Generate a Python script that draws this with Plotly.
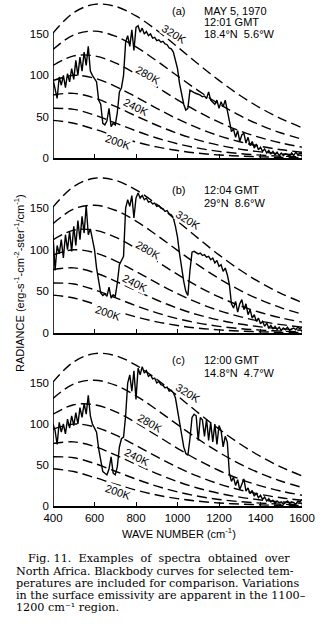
import plotly.graph_objects as go

# ---------------- data ----------------
bb_wn = [400, 500, 600, 700, 800, 900, 1000, 1100, 1200, 1300, 1400, 1500, 1600]
bb_temps = [320, 300, 280, 260, 240, 220, 200]
bb_320 = [151.2, 175.8, 185.8, 183.4, 171.8, 154.5, 134.3, 113.6, 93.8, 75.9, 60.4, 47.4, 36.7]
bb_300 = [131.2, 148.9, 153.4, 147.4, 134.4, 117.4, 99.2, 81.5, 65.4, 51.4, 39.7, 30.2, 22.7]
bb_280 = [111.9, 123.5, 123.5, 115.1, 101.6, 86.0, 70.3, 55.8, 43.3, 32.9, 24.6, 18.1, 13.1]
bb_260 = [93.6, 99.9, 96.5, 86.7, 73.8, 60.1, 47.2, 36.1, 26.9, 19.7, 14.1, 10.0, 7.0]
bb_240 = [76.2, 78.2, 72.5, 62.4, 50.8, 39.6, 29.8, 21.7, 15.5, 10.8, 7.4, 5.0, 3.3]
bb_220 = [60.1, 58.8, 51.9, 42.4, 32.8, 24.2, 17.2, 11.9, 8.0, 5.3, 3.5, 2.2, 1.4]
bb_200 = [45.5, 42.0, 34.8, 26.7, 19.4, 13.4, 9.0, 5.8, 3.7, 2.3, 1.4, 0.8, 0.5]

spec_wn = list(range(400, 1601, 10))
spec_a = [95, 85, 72, 98, 88, 100, 85, 102, 92, 108, 95, 118, 100, 122, 105, 128, 112, 135, 105, 100,
          95, 92, 70, 65, 42, 40, 45, 60, 38, 42, 40, 55, 80, 85, 100, 140, 148, 135, 155, 130,
          158, 160, 152, 157, 150, 153, 148, 150, 145, 146, 142, 143, 140, 141, 138, 137, 133, 132, 128, 118,
          108, 90, 75, 65, 58, 60, 82, 80, 79, 78, 77, 76, 74, 75, 72, 80, 70, 68, 65, 70,
          60, 68, 62, 70, 55, 45, 32, 35, 25, 33, 20, 28, 30, 18, 25, 15, 20, 12, 17, 10,
          13, 8, 11, 6, 9, 5, 8, 4, 7, 3, 6, 3, 5, 4, 2, 6, 3, 7, 4, 6, 5]
spec_b = [118, 75, 105, 95, 112, 90, 118, 100, 122, 98, 128, 105, 135, 112, 140, 120, 153, 118, 125, 110,
          100, 78, 60, 48, 45, 47, 44, 55, 42, 46, 44, 60, 82, 88, 92, 150, 160, 152, 165, 138,
          162, 168, 162, 165, 160, 162, 157, 158, 155, 156, 152, 153, 150, 149, 146, 147, 143, 142, 138, 128,
          115, 95, 75, 62, 50, 45, 75, 97, 98, 96, 95, 96, 93, 94, 91, 92, 88, 90, 84, 87,
          80, 82, 74, 78, 70, 58, 35, 30, 38, 25, 35, 40, 28, 35, 22, 28, 18, 22, 14, 18,
          11, 14, 8, 12, 6, 9, 5, 8, 4, 7, 3, 6, 4, 7, 3, 5, 6, 4, 7, 5, 7]
spec_c = [100, 92, 75, 102, 90, 100, 88, 106, 95, 110, 98, 114, 100, 120, 108, 125, 112, 135, 110, 100,
          95, 90, 70, 55, 42, 40, 38, 45, 60, 40, 38, 48, 72, 82, 84, 110, 150, 160, 140, 165,
          130, 168, 160, 170, 162, 165, 158, 160, 155, 156, 150, 152, 148, 147, 144, 145, 140, 141, 138, 132,
          118, 100, 85, 72, 64, 62, 82, 108, 112, 110, 80, 108, 105, 85, 106, 80, 102, 78, 100, 75,
          98, 92, 72, 85, 78, 40, 30, 35, 25, 32, 20, 28, 33, 18, 22, 15, 19, 12, 16, 10,
          13, 8, 11, 6, 9, 5, 7, 3, 6, 4, 5, 2, 4, 6, 3, 5, 4, 2, 6, 5, 8]

panel_letters = ["(a)", "(b)", "(c)"]
panel_info = [["MAY 5, 1970", "12:01 GMT", "18.4°N\u00a0\u00a05.6°W"],
              ["12:04 GMT", "29°N\u00a0\u00a08.6°W"],
              ["12:00 GMT", "14.8°N\u00a0\u00a04.7°W"]]
temp_labels = ["320K", "280K", "240K", "200K"]
y_ticks = [0, 50, 100, 150]
x_ticks = [400, 600, 800, 1000, 1200, 1400, 1600]
S = "\u00a0"
caption = ["Fig. 11." + S * 2 + "Examples" + S * 2 + "of" + S * 2 + "spectra" + S * 2 + "obtained" + S * 2 + "over",
           "North Africa. Blackbody curves for selected tem-",
           "peratures are included for comparison. Variations",
           "in the surface emissivity are apparent in the 1100–",
           "1200 cm\u207b\u00b9 region."]

# ---------------- layout helpers ----------------
W, H = 325, 630
def px(x):
    return x / W
def py(y):
    return 1 - y / H

SANS = "Liberation Sans, Arial, sans-serif"
SERIF = "DejaVu Serif, serif"
INK = "#000000"

# pixel geometry of the three panels: (y of zero, px per unit)
panels = [(158, 0.827), (333, 0.833), (506, 0.820)]
YTOP = 190
X0, X1 = 53, 302

fig = go.Figure()
spectra = [spec_a, spec_b, spec_c]
bbs = [bb_320, bb_300, bb_280, bb_260, bb_240, bb_220, bb_200]

for i, (y0, sc) in enumerate(panels):
    ax = "" if i == 0 else str(i + 1)
    for bb in bbs:
        fig.add_trace(go.Scatter(x=bb_wn, y=bb, mode="lines", line=dict(color=INK, width=1.4, dash="10px,5px", shape="spline", smoothing=1.0),
                                 xaxis="x" + ax, yaxis="y" + ax, showlegend=False, hoverinfo="skip"))
    fig.add_trace(go.Scatter(x=spec_wn, y=spectra[i], mode="lines", line=dict(color=INK, width=1.4),
                             xaxis="x" + ax, yaxis="y" + ax, showlegend=False, hoverinfo="skip"))
    top = y0 - YTOP * sc
    fig.layout["xaxis" + ax] = dict(domain=[px(X0), px(X1)], range=[400, 1600], anchor="y" + ax, automargin=False,
                                    showgrid=False, zeroline=False, showline=True, linecolor=INK, linewidth=1.6,
                                    ticks="inside", ticklen=4, tickcolor=INK, tickvals=x_ticks,
                                    showticklabels=(i == 2), tickfont=dict(family=SANS, size=11.5, color=INK))
    fig.layout["yaxis" + ax] = dict(domain=[py(y0), py(top)], range=[0, YTOP], anchor="x" + ax, automargin=False,
                                    showgrid=False, zeroline=False, showline=False,
                                    ticks="", tickvals=y_ticks, ticklabelstandoff=3,
                                    tickfont=dict(family=SANS, size=11.5, color=INK))
    fig.add_shape(type="line", xref="x" + ax, yref="y" + ax, x0=400, x1=400, y0=0, y1=152,
                  line=dict(color=INK, width=1.6))

# panel texts
letter_y = [11, 190, 360]
info_y = [[11, 22, 34], [190, 203], [360, 373]]
for i in range(3):
    fig.add_annotation(x=px(170), y=py(letter_y[i]), xref="paper", yref="paper", text=panel_letters[i],
                       showarrow=False, xanchor="left", yanchor="middle", font=dict(family=SANS, size=11, color=INK))
    for t, yy in zip(panel_info[i], info_y[i]):
        fig.add_annotation(x=px(202), y=py(yy), xref="paper", yref="paper", text=t,
                           showarrow=False, xanchor="left", yanchor="middle", font=dict(family=SANS, size=11, color=INK))

# temperature labels
tl_pos = [[(174, 34), (148, 75), (136, 107), (118, 142)],
          [(188, 220), (148, 250), (135, 283), (108, 313)],
          [(188, 393), (150, 423), (137, 457), (118, 492)]]
tl_ang = [32, 30, 27, 19]
for i in range(3):
    for t, (xx, yy), ang in zip(temp_labels, tl_pos[i], tl_ang):
        fig.add_annotation(x=px(xx), y=py(yy), xref="paper", yref="paper", text=t, textangle=ang,
                           showarrow=False, xanchor="center", yanchor="middle", bgcolor="white", borderpad=0,
                           font=dict(family=SANS, size=11, color=INK))

# axis titles
fig.add_annotation(x=px(179), y=py(533), xref="paper", yref="paper", text="WAVE NUMBER (cm<sup>-1</sup>)",
                   showarrow=False, xanchor="center", yanchor="middle", font=dict(family=SANS, size=11, color=INK))
fig.add_annotation(x=px(19), y=py(283), xref="paper", yref="paper",
                   text="RADIANCE (erg-s<sup>-1</sup>-cm<sup>-2</sup>-ster<sup>-1</sup>/cm<sup>-1</sup>)",
                   textangle=-90, showarrow=False, xanchor="center", yanchor="middle",
                   font=dict(family=SANS, size=11, color=INK))

# caption
cap_y = [558, 571, 583, 595, 607]
for k, (line, yy) in enumerate(zip(caption, cap_y)):
    fig.add_annotation(x=px(26 if k == 0 else 14), y=py(yy), xref="paper", yref="paper", text=line,
                       showarrow=False, xanchor="left", yanchor="middle", font=dict(family=SERIF, size=11.2, color=INK))

fig.update_layout(width=W, height=H, margin=dict(l=0, r=0, t=0, b=0),
                  paper_bgcolor="white", plot_bgcolor="white")
fig.write_html("out.html")
